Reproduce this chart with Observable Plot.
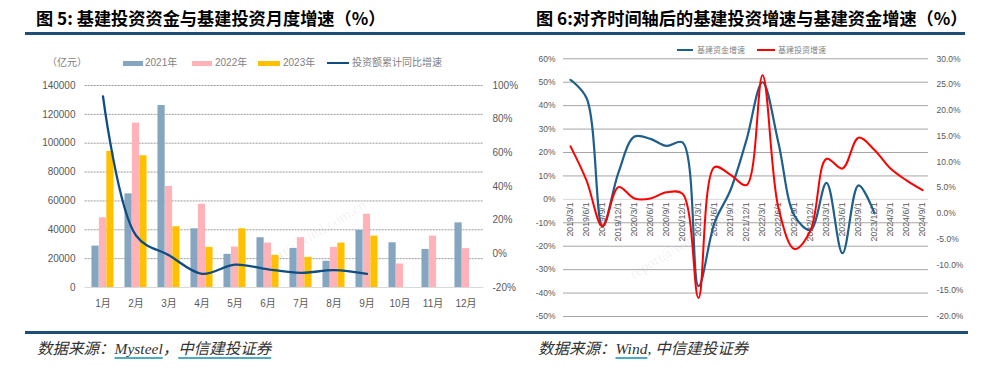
<!DOCTYPE html>
<html><head><meta charset="utf-8">
<script src="https://cdn.jsdelivr.net/npm/d3@7"></script>
<script src="https://cdn.jsdelivr.net/npm/@observablehq/plot@0.6"></script>
<style>
body{margin:0;width:1000px;height:376px;background:#fff;position:relative;overflow:hidden;font-family:"Noto Sans CJK SC",sans-serif;}
.abs{position:absolute;white-space:nowrap;}
.title{font-size:17.2px;font-weight:700;color:#000;line-height:20px;}
.rule{background:#1F4E79;height:2.5px;}
.lg{font-family:"Liberation Sans","Noto Sans CJK SC",sans-serif;font-size:10px;color:#7f7f7f;line-height:12px;}
.lg2{font-family:"Noto Sans CJK SC",sans-serif;font-size:8px;color:#7f7f7f;line-height:10px;}
.src{font-family:"Liberation Serif","Noto Sans CJK SC",serif;font-style:italic;font-size:15.5px;color:#333;line-height:18px;}
.src u{text-decoration-color:#4BACC6;text-decoration-thickness:2px;text-underline-offset:3px;}
.wm{font-family:"Liberation Serif",serif;font-size:15px;color:rgba(0,0,0,0.07);transform:rotate(-31deg);transform-origin:center;}
</style></head><body>
<div class="abs title" style="left:36px;top:8px;">图 5: 基建投资资金与基建投资月度增速（%）</div>
<div class="abs title" style="left:536px;top:8px;">图 6:对齐时间轴后的基建投资增速与基建资金增速（%）</div>
<div class="abs rule" style="left:25px;top:32px;width:940px;"></div>

<div class="abs lg" style="left:47px;top:57px;">（亿元）</div>
<div class="abs" style="left:123px;top:61px;width:20px;height:5px;background:#84A6C0;"></div>
<div class="abs lg" style="left:145px;top:57px;">2021年</div>
<div class="abs" style="left:192px;top:61px;width:20px;height:5px;background:#FFB3B9;"></div>
<div class="abs lg" style="left:215px;top:57px;">2022年</div>
<div class="abs" style="left:258px;top:61px;width:22px;height:5px;background:#FFC000;"></div>
<div class="abs lg" style="left:283px;top:57px;">2023年</div>
<div class="abs" style="left:327px;top:62px;width:22px;height:2px;background:#0F4C81;"></div>
<div class="abs lg" style="left:352px;top:57px;">投资额累计同比增速</div>

<div class="abs" style="left:677px;top:49px;width:16px;height:2px;background:#1F5F8B;"></div>
<div class="abs lg2" style="left:697px;top:45px;">基建资金增速</div>
<div class="abs" style="left:757px;top:49px;width:18px;height:2px;background:#FF0000;"></div>
<div class="abs lg2" style="left:778px;top:45px;">基建投资增速</div>

<div class="abs wm" style="left:247px;top:228px;">report@wind.com.cn</div>
<div class="abs wm" style="left:622px;top:234px;">report@wind.com.cn</div>

<div id="left" class="abs" style="left:0px;top:70px;width:530px;height:240px;"></div>
<div id="right" class="abs" style="left:500px;top:40px;width:500px;height:290px;"></div>

<div class="abs rule" style="left:25px;top:331px;width:943px;"></div>
<div class="abs src" style="left:37px;top:340px;">数据来源：<u>Mysteel</u>，<u>中信建投证券</u></div>
<div class="abs src" style="left:538px;top:340px;">数据来源：<u>Wind</u>, 中信建投证券</div>

<script>
// ---------- Left chart data ----------
const months = ["1月","2月","3月","4月","5月","6月","7月","8月","9月","10月","11月","12月"];
const vals2021 = [28700, 64900, 126100, 40700, 23000, 34500, 27100, 18200, 39500, 31000, 26400, 44800];
const vals2022 = [48300, 113900, 70000, 57700, 28000, 30800, 34500, 27800, 50800, 16300, 35600, 26900];
const vals2023 = [94300, 91300, 42100, 27800, 40700, 22300, 20900, 30800, 35600, null, null, null];
const investCumGrowth = [93.5, 10.9, -0.9, -11.9, -6.4, -9.2, -11.3, -9.7, -11.9];
const leftTicks = [0, 20000, 40000, 60000, 80000, 100000, 120000, 140000];
const rightTicksL = [-20, 0, 20, 40, 60, 80, 100];

// ---------- Right chart data ----------
const quarters = ["2019/3/1","2019/6/1","2019/9/1","2019/12/1","2020/3/1","2020/6/1","2020/9/1","2020/12/1",
  "2021/3/1","2021/6/1","2021/9/1","2021/12/1","2022/3/1","2022/6/1","2022/9/1","2022/12/1",
  "2023/3/1","2023/6/1","2023/9/1","2023/12/1","2024/3/1","2024/6/1","2024/9/1"];
const fundGrowth = [51, 43.3, -11.5, 11.5, 26.8, 25.8, 22.8, 24.3, -37, -10, 4, 25.4, 50, 24, -7, -13, 7, -23, 6, -6, null, null, null];
const investGrowth = [13, 6.4, -2.5, 5.1, 2.9, 2.9, 4.1, 3.8, -16.4, 9.0, 7.5, 5.5, 26.8, 1, -6.9, -3.3, 10.6, 8.7, 14.7, 12.3, 8.7, 6.4, 4.5];
const yTicksR1 = [-50, -40, -30, -20, -10, 0, 10, 20, 30, 40, 50, 60];
const yTicksR2 = [-20, -15, -10, -5, 0, 5, 10, 15, 20, 25, 30];

const gray = "#595959";

// left chart
const toL = p => (p + 20) * 140000 / 120;
const bars = (vals) => months.map((m, i) => ({m, v: vals[i]})).filter(d => d.v != null);
const bw = 33.24, g0 = 5.47, w = 7.43;
const leftPlot = Plot.plot({
  width: 530, height: 240,
  marginLeft: 84.6, marginRight: 46.6, marginTop: 15, marginBottom: 23,
  style: {background: "transparent", fontFamily: "Liberation Sans, Noto Sans CJK SC, sans-serif", fontSize: "10px", color: gray},
  x: {type: "band", domain: months, padding: 0},
  y: {domain: [0, 140000]},
  marks: [
    Plot.ruleY(leftTicks.filter(d => d > 0), {stroke: "#9a9a9a", strokeDasharray: "2,1"}),
    Plot.ruleY([0], {stroke: "#d9d9d9"}),
    Plot.barY(bars(vals2021), {x: "m", y: "v", fill: "#84A6C0", insetLeft: g0, insetRight: bw - g0 - w}),
    Plot.barY(bars(vals2022), {x: "m", y: "v", fill: "#FFB3B9", insetLeft: g0 + w, insetRight: bw - g0 - 2 * w}),
    Plot.barY(bars(vals2023), {x: "m", y: "v", fill: "#FFC000", insetLeft: g0 + 2 * w, insetRight: g0}),
    Plot.line(investCumGrowth.map((p, i) => ({m: months[i], p})), {x: "m", y: d => toL(d.p), stroke: "#0F4C81", strokeWidth: 2.3, curve: "catmull-rom"}),
    Plot.axisY({anchor: "left", ticks: leftTicks, tickFormat: d3.format("d"), tickSize: 0, tickPadding: 9.6, label: null}),
    Plot.axisY({anchor: "right", ticks: rightTicksL.map(toL), tickFormat: v => Math.round(v * 120 / 140000 - 20) + "%", tickSize: 0, tickPadding: 8.6, label: null}),
    Plot.axisX({anchor: "bottom", tickSize: 0, tickPadding: 12, label: null})
  ]
});
document.getElementById("left").appendChild(leftPlot);

// right chart
const toR = r => -50 + (r + 20) * 2.2;
const fromR = v => { const r = Math.round(((v + 50) / 2.2 - 20) * 10) / 10; return (r === 0 ? 0 : r).toFixed(1) + "%"; };
const rightPlot = Plot.plot({
  width: 500, height: 290,
  marginLeft: 63, marginRight: 72, marginTop: 18.3, marginBottom: 14,
  style: {background: "transparent", fontFamily: "Liberation Sans, sans-serif", fontSize: "8.5px", color: gray},
  x: {type: "point", domain: quarters, padding: 0.12},
  y: {domain: [-50, 60]},
  marks: [
    Plot.ruleY(yTicksR1.filter(d => d !== 0), {stroke: "#a6a6a6"}),
    Plot.ruleY([0], {stroke: "#d9d9d9"}),
    Plot.text(quarters, {x: d => d, y: 0, text: d => d, rotate: -90, textAnchor: "end", dy: 3, fontSize: 8.8, fill: gray}),
    Plot.line(quarters.map((q, i) => ({q, v: fundGrowth[i]})).filter(d => d.v != null), {x: "q", y: "v", stroke: "#1F5F8B", strokeWidth: 2.2, curve: "catmull-rom"}),
    Plot.line(quarters.map((q, i) => ({q, v: investGrowth[i]})), {x: "q", y: d => toR(d.v), stroke: "#FF0000", strokeWidth: 2, curve: "catmull-rom"}),
    Plot.axisY({anchor: "left", ticks: yTicksR1, tickFormat: d => d + "%", tickSize: 0, tickPadding: 8, label: null}),
    Plot.axisY({anchor: "right", ticks: yTicksR2.map(toR), tickFormat: fromR, tickSize: 0, tickPadding: 8, label: null}),
    Plot.axisX({ticks: [], label: null, tickSize: 0})
  ]
});
document.getElementById("right").appendChild(rightPlot);
</script>
</body></html>
